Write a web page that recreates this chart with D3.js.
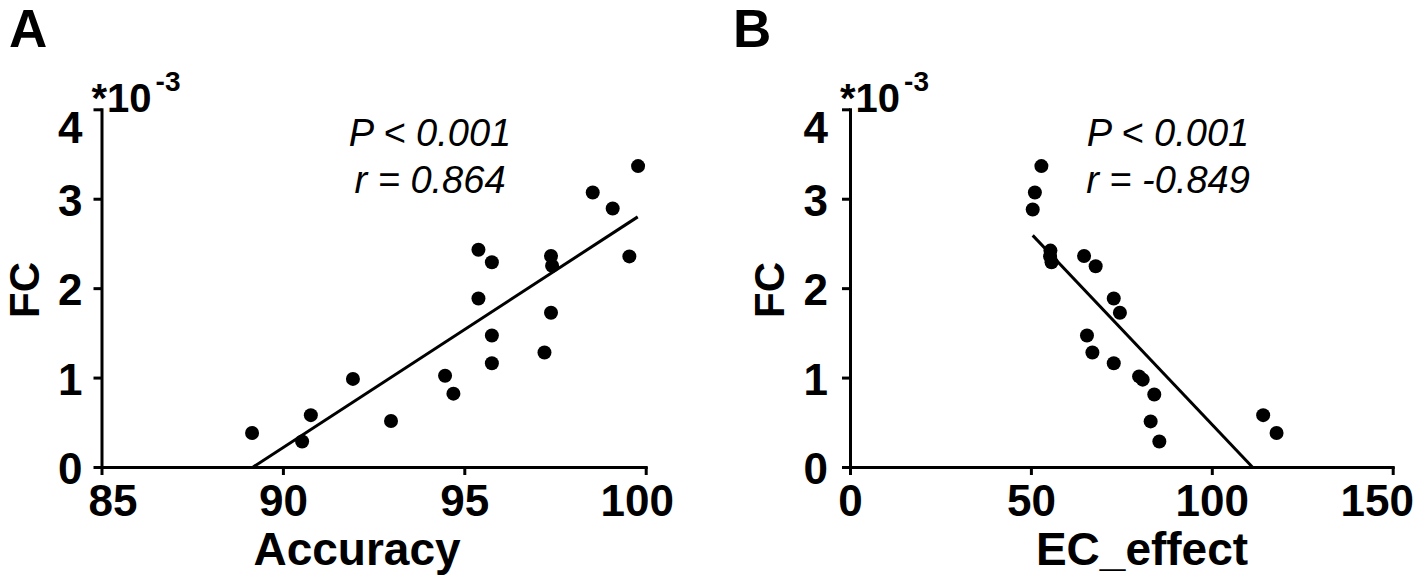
<!DOCTYPE html>
<html>
<head>
<meta charset="utf-8">
<script src="https://cdn.jsdelivr.net/npm/d3@7"></script>
<style>
  html, body { margin: 0; padding: 0; background: #fff; }
  svg { display: block; font-family: "Liberation Sans", Arial, sans-serif; }
</style>
</head>
<body>
<svg id="chart" width="1418" height="580"></svg>
<script>
// ---------- data ----------
const accuracyA = [89.15, 90.53, 90.77, 91.93, 92.98, 94.47, 94.70, 95.39, 95.76, 95.39,
                   95.76, 95.76, 97.39, 97.42, 97.39, 97.21, 98.54, 99.09, 99.55, 99.79];
const fcA       = [0.38, 0.285, 0.58, 0.985, 0.515, 1.02, 0.82, 2.43, 2.29, 1.885,
                   1.47, 1.16, 2.36, 2.25, 1.725, 1.28, 3.07, 2.89, 2.355, 3.365];
const ecEffectB = [52.9, 51.1, 50.5, 55.4, 55.3, 55.7, 64.7, 67.9, 72.9, 74.6,
                   65.5, 67.0, 72.9, 79.9, 80.9, 84.1, 83.1, 85.5, 114.2, 117.9];
const fcB       = [3.365, 3.07, 2.88, 2.42, 2.355, 2.29, 2.36, 2.245, 1.885, 1.725,
                   1.47, 1.28, 1.16, 1.013, 0.977, 0.81, 0.51, 0.285, 0.58, 0.38];
const fitA = [[89.18, 0], [99.78, 2.797]];
const fitB = [[50.5, 2.59], [111.2, 0]];
const xTicksA = [85, 90, 95, 100];
const xTicksB = [0, 50, 100, 150];
const yTicks  = [0, 1, 2, 3, 4];
const statsA = ["P < 0.001", "r = 0.864"];
const statsB = ["P < 0.001", "r = -0.849"];

const svg = d3.select("#chart");
const yTop = 109.3, yBottom = 467;

function panel(cfg) {
  const g = svg.append("g");
  const x = d3.scaleLinear().domain(cfg.xDomain).range(cfg.xRange);
  const y = d3.scaleLinear().domain([0, 4]).range([yBottom, yTop]);

  // axes
  const xAxis = d3.axisBottom(x).tickValues(cfg.xTicks).tickSize(8).tickSizeOuter(0).tickFormat(d3.format("d"));
  const yAxis = d3.axisLeft(y).tickValues(yTicks).tickSize(8).tickSizeOuter(0).tickFormat(d3.format("d"));

  const gx = g.append("g").attr("transform", `translate(0,${yBottom})`).call(xAxis);
  const gy = g.append("g").attr("transform", `translate(${cfg.xRange[0]},0)`).call(yAxis);

  [gx, gy].forEach(a => {
    a.selectAll("path.domain").attr("stroke", "#000").attr("stroke-width", 3).attr("stroke-linecap", "square");
    a.selectAll(".tick line").attr("stroke", "#000").attr("stroke-width", 3);
    a.selectAll(".tick text")
      .attr("fill", "#000")
      .style("font-family", '"Liberation Sans", Arial, sans-serif')
      .style("font-weight", "bold")
      .style("font-size", "44px");
  });
  gx.selectAll(".tick text").attr("y", 0).attr("dy", 0)
    .attr("transform", d => `translate(${cfg.xLabelShift[d] || 0},49)`);
  gy.selectAll(".tick text").attr("x", -cfg.yLabelGap).attr("dy", "0.36em")
    .attr("transform", d => `translate(0,${d === 4 ? 17 : 1})`);

  // regression line
  g.append("path")
    .datum(cfg.fit)
    .attr("d", d3.line().x(d => x(d[0])).y(d => y(d[1])))
    .attr("fill", "none").attr("stroke", "#000").attr("stroke-width", 3);

  // points
  g.selectAll("circle.pt")
    .data(d3.zip(cfg.xs, cfg.ys))
    .join("circle")
    .attr("class", "pt")
    .attr("cx", d => x(d[0]))
    .attr("cy", d => y(d[1]))
    .attr("r", 7)
    .attr("fill", "#000");

  // stats text
  g.selectAll("text.stat")
    .data(cfg.stats)
    .join("text")
    .attr("class", "stat")
    .attr("x", cfg.statX)
    .attr("y", (d, i) => 146 + i * 47)
    .attr("text-anchor", "middle")
    .style("font-style", "italic")
    .style("font-size", "38px")
    .attr("fill", "#000")
    .text(d => d);

  // exponent label
  const ex = g.append("text")
    .attr("x", cfg.xRange[0] - 10)
    .attr("y", 111.5)
    .style("font-weight", "bold")
    .style("font-size", "40px")
    .attr("fill", "#000");
  ex.append("tspan").text("*10");
  ex.append("tspan").attr("dx", 4).attr("dy", -21).style("font-size", "28px").text("-3");

  // axis titles
  g.append("text")
    .attr("x", cfg.xTitleX).attr("y", 565)
    .attr("text-anchor", "middle")
    .style("font-weight", "bold").style("font-size", "46px")
    .attr("fill", "#000")
    .text(cfg.xTitle);

  g.append("text")
    .attr("transform", `translate(${cfg.yTitleX},290) rotate(-90)`)
    .attr("text-anchor", "middle")
    .style("font-weight", "bold").style("font-size", "42px")
    .attr("fill", "#000")
    .text("FC");

  // panel letter
  g.append("text")
    .attr("x", cfg.letterX).attr("y", 46.5)
    .style("font-weight", "bold").style("font-size", "53px")
    .attr("fill", "#000")
    .text(cfg.letter);
}

panel({
  xDomain: [85, 100], xRange: [101.5, 645.7], xTicks: xTicksA,
  xs: accuracyA, ys: fcA, fit: fitA, stats: statsA, statX: 430,
  xTitle: "Accuracy", xTitleX: 357, yTitleX: 39, letter: "A", letterX: 9,
  xLabelShift: {85: 11, 100: -9}, yLabelGap: 19
});
panel({
  xDomain: [0, 150], xRange: [850, 1392.7], xTicks: xTicksB,
  xs: ecEffectB, ys: fcB, fit: fitB, stats: statsB, statX: 1168,
  xTitle: "EC_effect", xTitleX: 1142, yTitleX: 784, letter: "B", letterX: 733,
  xLabelShift: {150: -16}, yLabelGap: 22
});
</script>
</body>
</html>
